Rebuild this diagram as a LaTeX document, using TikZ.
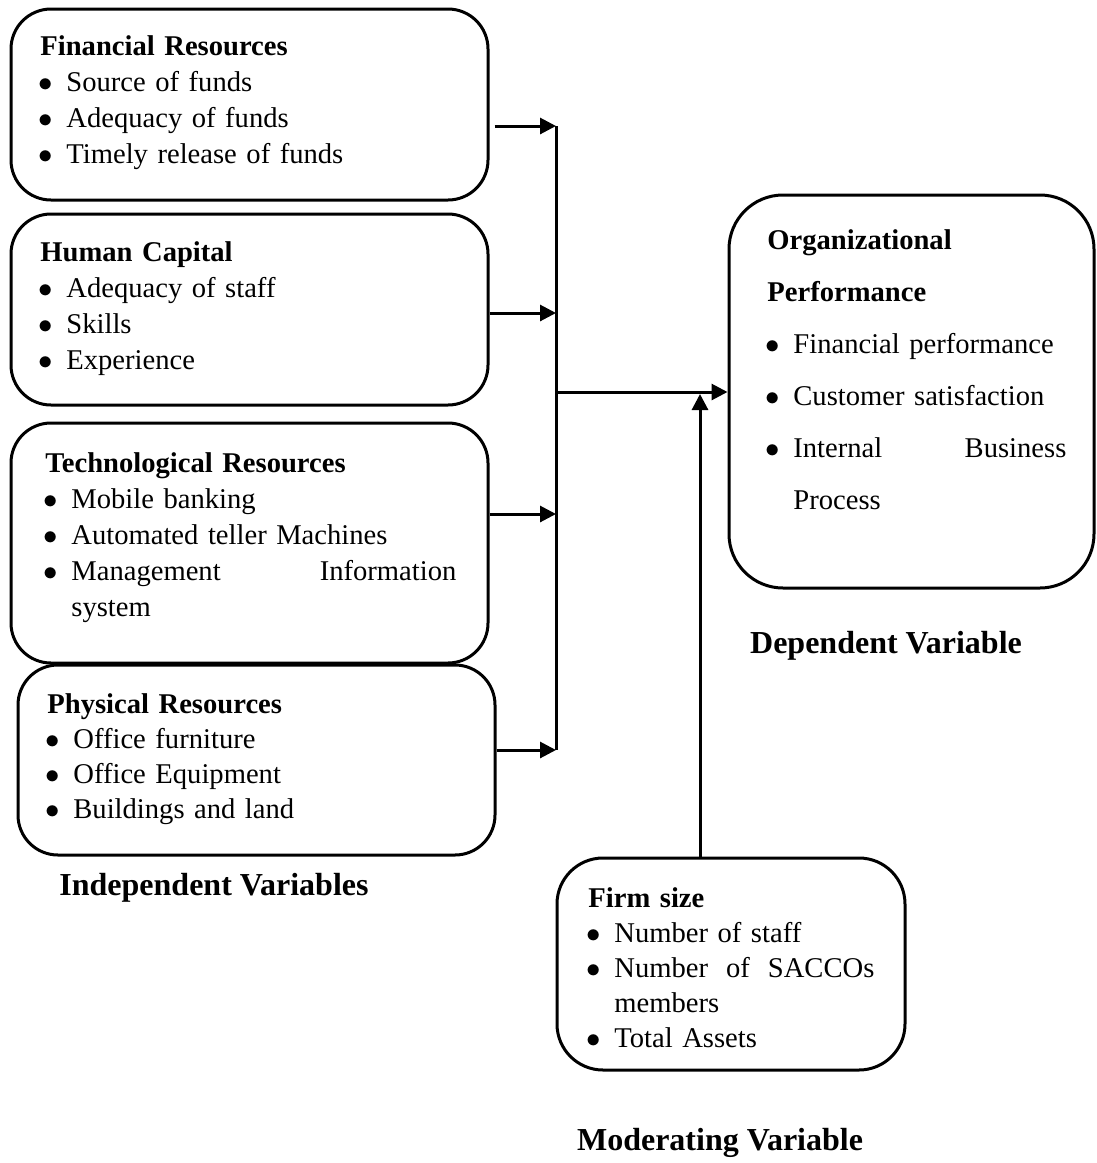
\documentclass[tikz,border=0pt]{standalone}
\usepackage{fontspec}
\setmainfont{Liberation Serif}
\usetikzlibrary{arrows.meta,positioning}

\newcommand{\bitem}[1]{\makebox[13pt][l]{\hspace{-1pt}$\bullet$}#1}
\newcommand{\bcont}{\hspace*{13pt}}

\begin{document}
\begin{tikzpicture}[x=0.5pt,y=-0.5pt,
  varbox/.style={draw, line width=1.5pt, rounded corners=20pt, inner sep=0pt},
  boxtext/.style={anchor=north west, inner sep=0pt, align=left},
  labeltext/.style={font=\fontsize{16}{19}\selectfont\bfseries, inner sep=0pt},
  arr/.style={line width=1.5pt, -{Triangle[length=8pt,width=8pt]}}]
\useasboundingbox (0,0) rectangle (1097,1163);

%Shape: Rounded Rect [financial]
\node[varbox, minimum width=238.5pt, minimum height=95.5pt] (fin) at (249.5,104.5) {};
%Shape: Rounded Rect [human]
\node[varbox, minimum width=238.5pt, minimum height=95.5pt] (hum) at (249.5,309.5) {};
%Shape: Rounded Rect [technological]
\node[varbox, minimum width=238.5pt, minimum height=120pt] (tech) at (249.5,543) {};
%Shape: Rounded Rect [physical]
\node[varbox, minimum width=238.5pt, minimum height=95pt] (phys) at (256.5,760) {};
%Shape: Rounded Rect [performance]
\node[varbox, rounded corners=27pt, minimum width=182.5pt, minimum height=196.5pt] (perf) at (911.5,391.5) {};
%Shape: Rounded Rect [firm size]
\node[varbox, rounded corners=23pt, minimum width=174pt, minimum height=106pt] (firm) at (731,964) {};

% Text Node
\node[boxtext, text width=206pt, font=\fontsize{14.3}{18}\selectfont] (fintxt) at (40,35)
  {\textbf{Financial Resources}\\
   \bitem{Source of funds}\\
   \bitem{Adequacy of funds}\\
   \bitem{Timely release of funds}};
% Text Node
\node[boxtext, text width=206pt, font=\fontsize{14.3}{18}\selectfont] (humtxt) at (40,241)
  {\textbf{Human Capital}\\
   \bitem{Adequacy of staff}\\
   \bitem{Skills}\\
   \bitem{Experience}};
% Text Node
\node[boxtext, text width=205.5pt, font=\fontsize{14.3}{18}\selectfont] (techtxt) at (45,452)
  {\textbf{Technological Resources}\\
   \bitem{Mobile banking}\\
   \bitem{Automated teller Machines}\\
   \bitem{Management\hfill Information}\\
   \bcont system};
% Text Node
\node[boxtext, text width=206pt, font=\fontsize{14.3}{17.5}\selectfont] (phystxt) at (47,693)
  {\textbf{Physical Resources}\\
   \bitem{Office furniture}\\
   \bitem{Office Equipment}\\
   \bitem{Buildings and land}};
% Text Node
\node[boxtext, text width=149.5pt, font=\fontsize{14.3}{26}\selectfont] (perftxt) at (767,229)
  {\textbf{Organizational}\\
   \textbf{Performance}\\
   \bitem{Financial performance}\\
   \bitem{Customer satisfaction}\\
   \bitem{Internal\hfill Business}\\
   \bcont Process};
% Text Node
\node[boxtext, text width=143pt, font=\fontsize{14.3}{17.5}\selectfont] (firmtxt) at (588,887)
  {\textbf{Firm size}\\
   \bitem{Number of staff}\\
   \bitem{Number\hfill of\hfill SACCOs}\\
   \bcont members\\
   \bitem{Total Assets}};

% Text Node
\node[labeltext] (indep) at (214,888) {Independent Variables};
% Text Node
\node[labeltext] (dep) at (886,646) {Dependent Variable};
% Text Node
\node[labeltext] (mod) at (720,1143) {Moderating Variable};

%Connectors
\coordinate (busF) at (556,126);
\coordinate (busH) at (556,313);
\coordinate (busT) at (556,514);
\coordinate (busP) at (556,750);
\coordinate (busO) at (556,392);
\coordinate (modin) at (700,394);

\draw[arr, shorten <=2.5pt] (fin.east |- busF) -- (busF);
\draw[arr] (hum.east |- busH) -- (busH);
\draw[arr] (tech.east |- busT) -- (busT);
\draw[arr] (phys.east |- busP) -- (busP);
\draw[line width=1.5pt] (busF) -- (busP);
\draw[arr] (busO) -- (busO -| perf.west);
\draw[arr] (modin |- firm.north) -- (modin);

\end{tikzpicture}
\end{document}
